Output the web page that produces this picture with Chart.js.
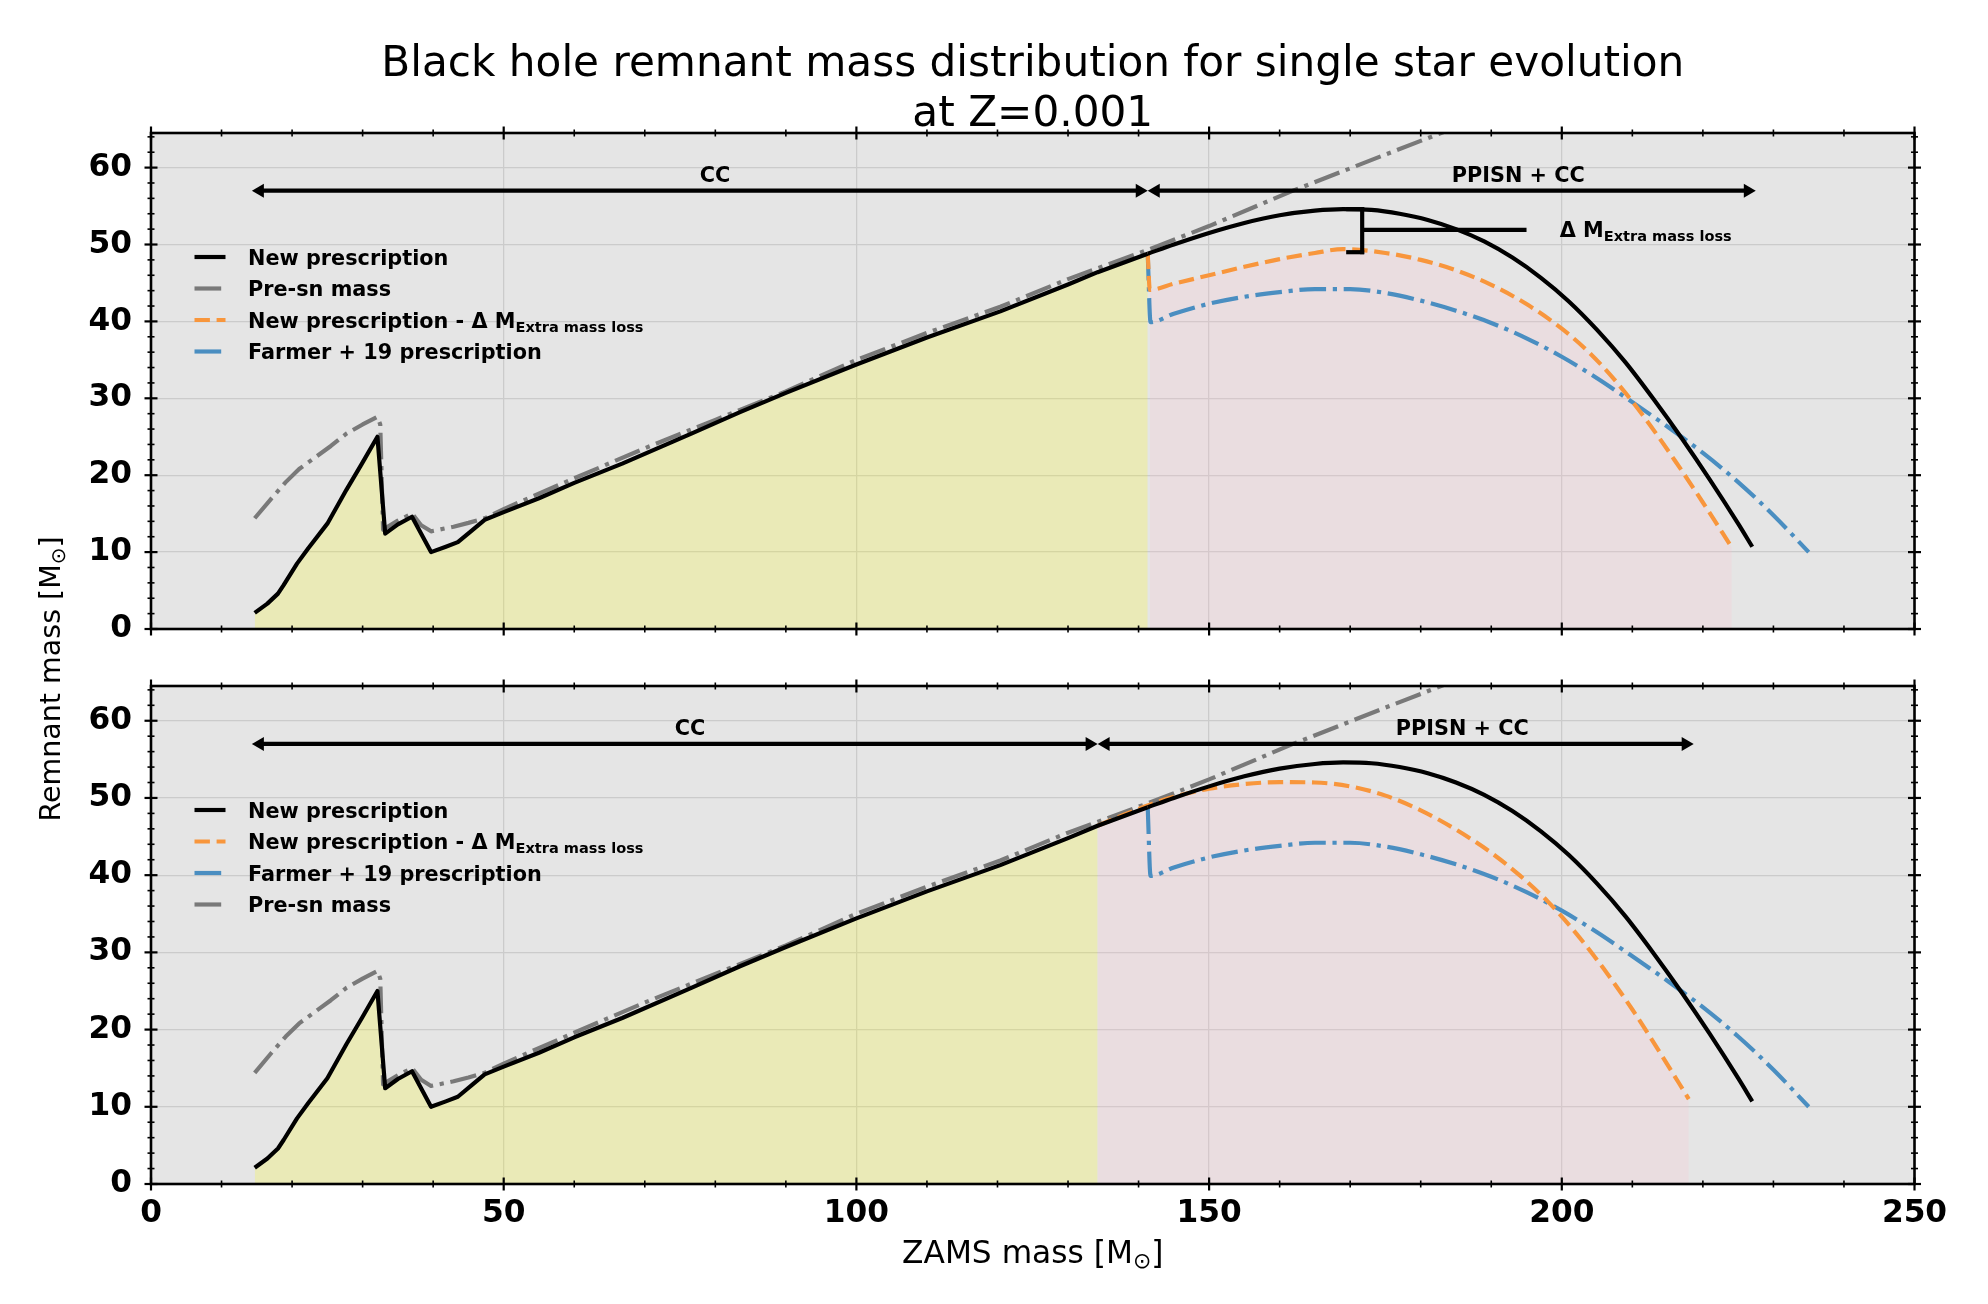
<!DOCTYPE html>
<html>
<head>
<meta charset="utf-8">
<title>Black hole remnant mass distribution</title>
<script src="https://cdn.jsdelivr.net/npm/chart.js@4.4.0/dist/chart.umd.min.js"></script>
<style>
    html, body { margin: 0; padding: 0; background: #fff; overflow: hidden; }
    #figure { position: relative; width: 1988px; height: 1304px; }
    #figure canvas { position: absolute; left: 0; top: 0; }
</style>
</head>
<body>
<div id="figure">
    <canvas id="topPanel" width="1988" height="1304"></canvas>
    <canvas id="bottomPanel" width="1988" height="1304"></canvas>
</div>
<script>
/* =============================================================================
   DATA - ZAMS mass and remnant mass in solar masses
   ============================================================================= */

// New prescription (same in both panels)
const newMass = [14.7, 16.5, 18.0, 18.8, 20.7, 22.3, 25.0, 27.7, 29.9, 32.1, 33.2, 35.0, 37.0, 39.7,
    41.8, 43.5, 45.6, 47.3, 50.0, 55.0, 60.0, 66.8, 76.6, 83.5, 90.0, 100.0, 110.0, 120.4, 130.0,
    134.2, 141.3, 145, 150, 155, 160, 165, 169, 173, 177, 181, 185, 189, 193, 197, 201, 205, 209,
    213, 217, 221, 225, 227];
const newRemnant = [2.1, 3.3, 4.6, 5.7, 8.5, 10.5, 13.7, 18.1, 21.5, 25.0, 12.4, 13.6, 14.6, 10.0,
    10.7, 11.3, 12.9, 14.2, 15.2, 17.0, 19.0, 21.5, 25.4, 28.2, 30.7, 34.4, 37.9, 41.3, 44.8,
    46.4, 48.8, 50.0, 51.5, 52.8, 53.8, 54.4, 54.6, 54.5, 54.0, 53.2, 52.0, 50.4, 48.3, 45.7, 42.6,
    38.9, 34.7, 29.9, 24.8, 19.4, 13.7, 10.7];

// Pre-supernova mass
const preMass = [14.7, 17.0, 19.1, 21.0, 23.4, 25.5, 27.7, 30.0, 32.1, 32.5, 32.9, 33.2, 35.0, 37.0,
    38.3, 39.7, 42.9, 45.0, 47.3, 50.0, 60, 70, 80, 90, 100, 110, 120.4, 130, 141.3, 150, 161.9,
    175, 186];
const preSN = [14.4, 16.9, 19.1, 20.8, 22.4, 23.8, 25.4, 26.6, 27.6, 26.6, 12.9, 13.1, 14.1, 15.0,
    13.5, 12.7, 13.3, 13.8, 14.4, 15.6, 19.6, 23.5, 27.2, 30.9, 35.0, 38.5, 41.9, 45.5, 49.3,
    52.4, 57.0, 61.7, 65.6];

// Farmer + 19 prescription
const farmerMass = [141.3, 141.7, 145, 150, 155, 160, 165, 170, 175, 180, 185, 190, 195, 200,
    205, 209.2, 215, 220, 225, 230, 235];
const farmer = [48.8, 39.9, 41.0, 42.3, 43.2, 43.8, 44.2, 44.2, 43.7, 42.7, 41.4, 39.8, 37.8, 35.4,
    32.6, 30.0, 26.3, 22.9, 19.1, 14.8, 10.0];

// New prescription - Delta M extra mass loss, top panel
const extraTopMass = [141.3, 141.6, 145, 150, 155, 160, 165, 169, 175, 180, 185, 190, 195, 200,
    204, 208, 212, 216, 220, 224.1];
const extraTop = [48.8, 44.1, 44.9, 46.0, 47.1, 48.1, 48.9, 49.4, 48.9, 48.0, 46.65, 44.75, 42.25, 39.05,
    35.85, 31.85, 27.15, 21.95, 16.45, 10.6];

// New prescription - Delta M extra mass loss, bottom panel
const extraBottomMass = [134.2, 138, 141.5, 145, 150, 155, 160, 165, 170, 175, 180, 185, 190, 194,
    198, 202, 206, 210, 214, 218];
const extraBottom = [46.4, 47.85, 49.1, 50.15, 51.2, 51.8, 52.05, 52.0, 51.5, 50.3, 48.4, 45.9, 42.9, 40.0,
    36.6, 32.5, 27.8, 22.6, 16.9, 11.0];

// Regime limits (CC / PPISN + CC arrows and shading)
const ccSpanTop = [14.3, 141.3];
const ppisnSpanTop = [141.3, 227.5];
const ccSpanBottom = [14.3, 134.2];
const ppisnSpanBottom = [134.2, 218.7];
const arrowLevel = 57;

// Delta M bracket (top panel)
const deltaBracket = [171.7, 49.0, 54.6];   // x, low, high
const deltaArm = [171.7, 195.0, 51.9];      // x from, x to, y
const deltaLabelX = 199.7;

// Axes
const xTicks = [0, 50, 100, 150, 200, 250];
const yTicks = [0, 10, 20, 30, 40, 50, 60];
const xRange = [0, 250];
const yRange = [0, 64.5];

/* =============================================================================
   STYLE
   ============================================================================= */
const FONT = '"DejaVu Sans", "Liberation Sans", sans-serif';
const LW = 4.17;
const DASHED = [15.4, 6.7];
const DASHDOT = [26.7, 6.7, 4.2, 6.7];
const C_NEW = '#000000';
const C_PRE = '#797979';
const C_EXTRA = '#f8963c';
const C_FARMER = '#4a8ec1';
const YELLOW = 'rgba(255, 255, 0, 0.2)';
const PINK = 'rgba(255, 192, 203, 0.2)';

const zip = (xs, ys) => xs.map((x, i) => ({ x: x, y: ys[i] }));
const within = (xs, ys, lo, hi) => zip(xs, ys).filter(p => p.x >= lo && p.x <= hi);

const lineSet = (label, pts, color, dash, order, smooth) => ({
    label: label,
    data: pts,
    borderColor: color,
    borderWidth: LW,
    borderDash: dash,
    borderJoinStyle: 'round',
    pointRadius: 0,
    fill: false,
    cubicInterpolationMode: smooth ? 'monotone' : 'default',
    tension: smooth ? 0.4 : 0,
    order: order
});

const fillSet = (pts, color, smooth) => ({
    label: '',
    data: pts,
    borderColor: 'transparent',
    borderWidth: 0,
    backgroundColor: color,
    pointRadius: 0,
    fill: 'origin',
    cubicInterpolationMode: smooth ? 'monotone' : 'default',
    tension: smooth ? 0.4 : 0,
    order: 20
});

function line(ctx, x0, y0, x1, y1) {
    ctx.beginPath();
    ctx.moveTo(x0, y0);
    ctx.lineTo(x1, y1);
    ctx.stroke();
}

// left-aligned text with an optional subscript part
function subText(ctx, x, y, main, sub, size, weight, drop) {
    ctx.font = weight + ' ' + size + 'px ' + FONT;
    ctx.fillText(main, x, y);
    if (!sub) return;
    const w = ctx.measureText(main).width;
    ctx.font = weight + ' ' + (size * 0.7) + 'px ' + FONT;
    ctx.fillText(sub, x + w, y + drop);
}

// "label [M_sun]" centred on (0, 0) of the current transform
function massLabel(ctx, main, size) {
    ctx.font = size + 'px ' + FONT;
    const w1 = ctx.measureText(main).width;
    const w3 = ctx.measureText(']').width;
    ctx.font = (size * 0.7) + 'px ' + FONT;
    const w2 = ctx.measureText('\u2299').width;
    const x = -(w1 + w2 + w3) / 2;
    ctx.textAlign = 'left';
    ctx.font = size + 'px ' + FONT;
    ctx.fillText(main, x, 0);
    ctx.fillText(']', x + w1 + w2, 0);
    ctx.font = (size * 0.7) + 'px ' + FONT;
    ctx.fillText('\u2299', x + w1, size * 0.16);
}

function arrowHead(ctx, x, y, dir) {
    // dir = +1 points right, -1 points left
    ctx.beginPath();
    ctx.moveTo(x, y);
    ctx.lineTo(x - dir * 12, y - 7);
    ctx.lineTo(x - dir * 12, y + 7);
    ctx.closePath();
    ctx.fill();
}

/* =============================================================================
   PANEL DECORATION PLUGIN: background, spines, in-out ticks, legend, arrows
   ============================================================================= */
const panelDecor = {
    id: 'panelDecor',
    beforeDraw(chart) {
        const { ctx, chartArea: a } = chart;
        ctx.save();
        ctx.fillStyle = '#e5e5e5';
        ctx.fillRect(a.left, a.top, a.right - a.left, a.bottom - a.top);
        ctx.restore();
    },
    afterDraw(chart, args, opts) {
        const { ctx, chartArea: a } = chart;
        const xs = chart.scales.x, ys = chart.scales.y;
        ctx.save();
        ctx.strokeStyle = '#000';
        ctx.fillStyle = '#000';
        ctx.setLineDash([]);

        // spines
        ctx.lineWidth = 2.6;
        ctx.strokeRect(a.left, a.top, a.right - a.left, a.bottom - a.top);

        // ticks on all four sides, in-out
        for (let v = xRange[0]; v <= xRange[1]; v += 10) {
            const major = xTicks.includes(v);
            const px = xs.getPixelForValue(v);
            const len = major ? 6.5 : 3.5;
            ctx.lineWidth = major ? 2.2 : 1.6;
            line(ctx, px, a.bottom - len, px, a.bottom + len);
            line(ctx, px, a.top - len, px, a.top + len);
        }
        for (let v = 0; v <= yRange[1]; v += 2) {
            const major = yTicks.includes(v);
            const py = ys.getPixelForValue(v);
            const len = major ? 6.5 : 3.5;
            ctx.lineWidth = major ? 2.2 : 1.6;
            line(ctx, a.left - len, py, a.left + len, py);
            line(ctx, a.right - len, py, a.right + len, py);
        }

        // regime arrows
        const ay = ys.getPixelForValue(arrowLevel);
        opts.arrows.forEach(([lo, hi, label]) => {
            const x0 = xs.getPixelForValue(lo), x1 = xs.getPixelForValue(hi);
            ctx.lineWidth = LW;
            line(ctx, x0 + 8, ay, x1 - 8, ay);
            arrowHead(ctx, x0, ay, -1);
            arrowHead(ctx, x1, ay, 1);
            ctx.font = 'bold 20.8px ' + FONT;
            ctx.textAlign = 'left';
            ctx.textBaseline = 'alphabetic';
            ctx.fillText(label, xs.getPixelForValue((lo + hi) / 2), ay - 9);
        });

        // Delta M bracket
        if (opts.bracket) {
            const bx = xs.getPixelForValue(deltaBracket[0]);
            const bLow = ys.getPixelForValue(deltaBracket[1]);
            const bHigh = ys.getPixelForValue(deltaBracket[2]);
            ctx.lineWidth = LW;
            ctx.lineCap = 'butt';
            line(ctx, bx, bLow + 2, bx, bHigh - 2);
            line(ctx, bx - 16, bLow, bx + 2, bLow);
            line(ctx, bx - 16, bHigh, bx + 2, bHigh);
            const armY = ys.getPixelForValue(deltaArm[2]);
            line(ctx, xs.getPixelForValue(deltaArm[0]), armY, xs.getPixelForValue(deltaArm[1]), armY);
            ctx.textAlign = 'left';
            subText(ctx, xs.getPixelForValue(deltaLabelX), armY + 7, '\u0394 M', 'Extra mass loss', 20.8, 'bold', 4);
        }

        // legend
        opts.legend.forEach((item, i) => {
            const y = a.top + 124 + i * 31.5;
            const x0 = a.left + 43.5;
            ctx.strokeStyle = item.color;
            ctx.lineWidth = LW;
            ctx.setLineDash(item.dash);
            ctx.lineCap = 'butt';
            line(ctx, x0, y, x0 + 31, y);
            ctx.setLineDash([]);
            ctx.fillStyle = '#000';
            ctx.textAlign = 'left';
            subText(ctx, a.left + 97, y + 7.5, item.label, item.sub, 20.8, 'bold', 4);
        });

        // figure texts
        if (opts.title) {
            const cx = (a.left + a.right) / 2;
            ctx.fillStyle = '#000';
            ctx.textAlign = 'center';
            ctx.font = '42.2px ' + FONT;
            ctx.fillText('Black hole remnant mass distribution for single star evolution', cx, 76);
            ctx.fillText('at Z=0.001', cx, 126);
        }
        if (opts.axisTitles) {
            ctx.fillStyle = '#000';
            ctx.save();
            ctx.translate((a.left + a.right) / 2, 1263);
            massLabel(ctx, 'ZAMS mass [M', 31.25);
            ctx.restore();

            ctx.save();
            ctx.translate(60, 679);
            ctx.rotate(-Math.PI / 2);
            massLabel(ctx, 'Remnant mass [M', 28.5);
            ctx.restore();
        }
        ctx.restore();
    }
};

function scaleConfig(showXLabels, xHeight) {
    const tickFont = { family: FONT, size: 31.25, weight: 'bold' };
    return {
        x: {
            type: 'linear',
            min: xRange[0],
            max: xRange[1],
            afterBuildTicks: s => { s.ticks = xTicks.map(v => ({ value: v })); },
            ticks: { display: showXLabels, font: tickFont, color: '#000', padding: 11, maxRotation: 0, autoSkip: false },
            grid: { color: '#cbcbcb', lineWidth: 1.3, drawTicks: false },
            border: { display: false },
            afterFit: s => { s.height = xHeight; s.paddingLeft = 0; s.paddingRight = 0; }
        },
        y: {
            type: 'linear',
            min: yRange[0],
            max: yRange[1],
            afterBuildTicks: s => { s.ticks = yTicks.map(v => ({ value: v })); },
            ticks: { font: tickFont, color: '#000', padding: 19, autoSkip: false },
            grid: { color: '#cbcbcb', lineWidth: 1.3, drawTicks: false },
            border: { display: false },
            afterFit: s => { s.width = 151; s.paddingTop = 0; s.paddingBottom = 0; }
        }
    };
}

// black curve: sharp low-mass part drawn straight, smooth PPISN part
function newPrescriptionSets(split) {
    return [
        lineSet('New prescription', within(newMass, newRemnant, 0, split), C_NEW, [], 1, false),
        lineSet('New prescription', within(newMass, newRemnant, split, 300), C_NEW, [], 1, true)
    ];
}

// ---- top panel ----
new Chart(document.getElementById('topPanel'), {
    type: 'line',
    data: {
        datasets: [
            ...newPrescriptionSets(ccSpanTop[1]),
            lineSet('Pre-sn mass', zip(preMass, preSN), C_PRE, DASHDOT, 2, false),
            lineSet('New prescription - \u0394 M Extra mass loss', zip(extraTopMass, extraTop), C_EXTRA, DASHED, 3, true),
            lineSet('Farmer + 19 prescription', zip(farmerMass, farmer), C_FARMER, DASHDOT, 4, true),
            fillSet(within(newMass, newRemnant, 0, ccSpanTop[1]), YELLOW, false),
            fillSet(within(extraTopMass, extraTop, ccSpanTop[1] + 0.1, 300), PINK, true)
        ]
    },
    options: {
        responsive: false,
        animation: false,
        events: [],
        layout: { padding: { left: 0, right: 73.5, top: 133, bottom: 0 } },
        scales: scaleConfig(false, 675),
        plugins: {
            legend: { display: false },
            tooltip: { enabled: false },
            panelDecor: {
                title: true,
                bracket: true,
                arrows: [[ccSpanTop[0], ccSpanTop[1], 'CC'], [ppisnSpanTop[0], ppisnSpanTop[1], 'PPISN + CC']],
                legend: [
                    { label: 'New prescription', color: C_NEW, dash: [] },
                    { label: 'Pre-sn mass', color: C_PRE, dash: DASHDOT },
                    { label: 'New prescription - \u0394 M', sub: 'Extra mass loss', color: C_EXTRA, dash: DASHED },
                    { label: 'Farmer + 19 prescription', color: C_FARMER, dash: DASHDOT }
                ]
            }
        }
    },
    plugins: [panelDecor]
});

// ---- bottom panel ----
new Chart(document.getElementById('bottomPanel'), {
    type: 'line',
    data: {
        datasets: [
            ...newPrescriptionSets(ccSpanTop[1]),
            lineSet('New prescription - \u0394 M Extra mass loss', zip(extraBottomMass, extraBottom), C_EXTRA, DASHED, 2, true),
            lineSet('Farmer + 19 prescription', zip(farmerMass, farmer), C_FARMER, DASHDOT, 3, true),
            lineSet('Pre-sn mass', zip(preMass, preSN), C_PRE, DASHDOT, 4, false),
            fillSet(within(newMass, newRemnant, 0, ccSpanBottom[1]), YELLOW, false),
            fillSet(zip(extraBottomMass, extraBottom), PINK, true)
        ]
    },
    options: {
        responsive: false,
        animation: false,
        events: [],
        layout: { padding: { left: 0, right: 73.5, top: 686, bottom: 0 } },
        scales: scaleConfig(true, 120),
        plugins: {
            legend: { display: false },
            tooltip: { enabled: false },
            panelDecor: {
                axisTitles: true,
                arrows: [[ccSpanBottom[0], ccSpanBottom[1], 'CC'], [ppisnSpanBottom[0], ppisnSpanBottom[1], 'PPISN + CC']],
                legend: [
                    { label: 'New prescription', color: C_NEW, dash: [] },
                    { label: 'New prescription - \u0394 M', sub: 'Extra mass loss', color: C_EXTRA, dash: DASHED },
                    { label: 'Farmer + 19 prescription', color: C_FARMER, dash: DASHDOT },
                    { label: 'Pre-sn mass', color: C_PRE, dash: DASHDOT }
                ]
            }
        }
    },
    plugins: [panelDecor]
});
</script>
</body>
</html>
